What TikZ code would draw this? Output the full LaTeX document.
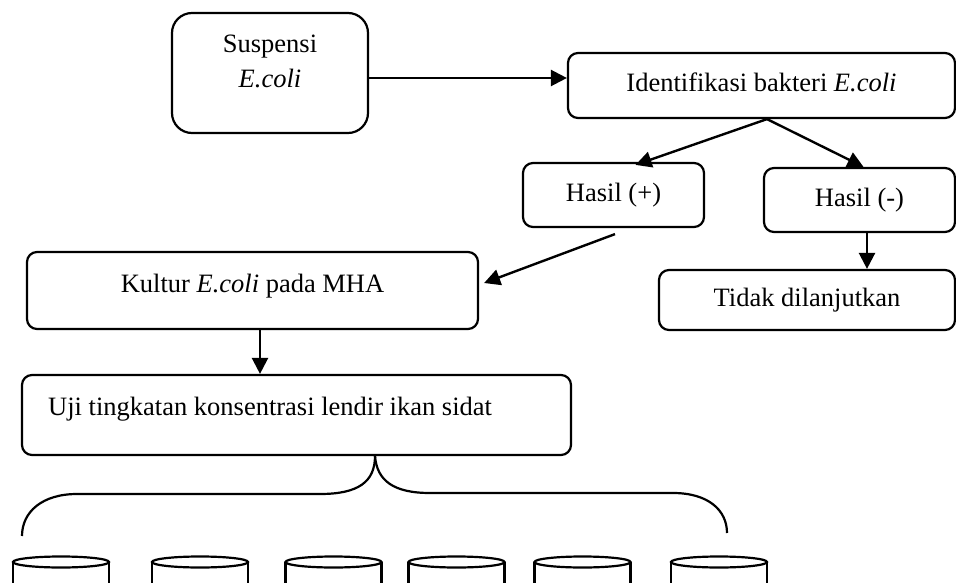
\documentclass[tikz,border=0pt]{standalone}
\usepackage{fontspec}
\setmainfont{Liberation Serif}
\usetikzlibrary{arrows.meta,calc}
\begin{document}
\begin{tikzpicture}[x=1pt,y=-1pt,
  box/.style={draw,line width=2.2pt,rounded corners=10pt,inner sep=0pt,
    font=\fontsize{26.5}{32}\selectfont,text height=18pt,text depth=6pt},
  txt/.style={inner sep=0pt,font=\fontsize{26.5}{32}\selectfont},
  conn/.style={line width=2.4pt,-{Triangle[length=16pt,width=16pt]}},
  brace/.style={line width=2.2pt},
  cyl/.style={line width=2.2pt}]
\useasboundingbox (0,0) rectangle (956,583);
\clip (0,0) rectangle (956,583);

% boxes
\node[box,rounded corners=20pt,minimum width=196pt,minimum height=120pt] (susp) at (270,73) {};
\node[txt,anchor=base] (susp1) at (270,53) {Suspensi};
\node[txt,anchor=base] (susp2) at (270,88) {\textit{E.coli}};

\node[box,minimum width=387pt,minimum height=65pt] (ident) at (761.5,85.5) {Identifikasi bakteri \textit{E.coli}};
\node[box,minimum width=181pt,minimum height=64pt] (hp) at (613.5,195) {Hasil (+)};
\node[box,minimum width=191pt,minimum height=64pt] (hm) at (859.5,200) {Hasil (-)};
\node[box,minimum width=296pt,minimum height=60pt] (tidak) at (807,300) {Tidak dilanjutkan};

\node[box,minimum width=451pt,minimum height=77pt] (kultur) at (252.5,290.5) {};
\node[txt,anchor=base] (kulturtxt) at (252.5,292) {Kultur \textit{E.coli} pada MHA};

\node[box,minimum width=549pt,minimum height=80pt] (uji) at (296.5,415) {};
\node[txt,anchor=base west] (ujitxt) at (48,415) {Uji tingkatan konsentrasi lendir ikan sidat};

% connectors
\draw[conn] ([yshift=-5pt]susp.east) -- ([yshift=7.5pt]ident.west);
\draw[conn] ([xshift=5.5pt]ident.south) -- ([xshift=22pt,yshift=-3pt]hp.north);
\draw[conn] ([xshift=5.5pt]ident.south) -- ([xshift=4pt]hm.north);
\coordinate (hpfree) at ([xshift=1.5pt,yshift=-6pt]hp.south);
\draw[conn] (hpfree) -- ([xshift=5pt,yshift=7.5pt]kultur.east);
\draw[conn] ([xshift=7.5pt]hm.south) -- ([xshift=7.5pt]hm.south |- tidak.north);
\draw[conn] ([xshift=7.5pt]kultur.south) -- ([xshift=7.5pt]kultur.south |- uji.north);

% brace
\coordinate (bj) at ([xshift=78.5pt]uji.south);
\draw[brace] (bj) .. controls (375,482) and (358,494) .. (320,494) -- (77,494)
  .. controls (42,494) and (22,512) .. (22,536);
\draw[brace] (bj) .. controls (377,481) and (394,493) .. (430,493) -- (673,493)
  .. controls (708,493) and (727,510) .. (727,533);

% cylinders
\foreach \cx in {61,200,333.5,456.5,582.5,719} {
  \draw[cyl] (\cx,562) ellipse [x radius=48pt, y radius=5.5pt];
  \draw[cyl] (\cx-48,562) -- (\cx-48,600);
  \draw[cyl] (\cx+48,562) -- (\cx+48,600);
}
\end{tikzpicture}
\end{document}
